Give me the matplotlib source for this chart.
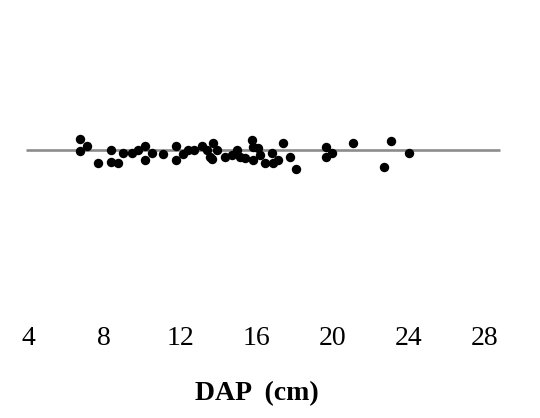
import numpy as np
import matplotlib
matplotlib.use("Agg")
import matplotlib.pyplot as plt

# DAP (cm) e residuos
dap = [6.73, 7.10, 6.73, 7.68, 8.36, 8.36, 8.73, 8.99, 9.46, 9.78,
       10.15, 10.15, 10.51, 11.09, 11.77, 11.77, 12.14, 12.40, 12.72, 13.14,
       13.40, 13.56, 13.72, 13.66, 13.93, 14.35, 14.71, 14.98, 15.13, 15.39,
       15.76, 15.82, 16.08, 15.82, 16.18, 16.45, 16.82, 16.87, 17.13, 17.39,
       17.76, 18.08, 19.65, 19.65, 19.97, 21.07, 23.07, 22.70, 24.01]
residuo = [0.11, 0.04, -0.01, -0.13, 0.00, -0.12, -0.13, -0.03, -0.03, 0.00,
           0.04, -0.10, -0.03, -0.04, 0.04, -0.10, -0.04, 0.00, 0.00, 0.04,
           0.00, -0.07, 0.07, -0.09, 0.00, -0.07, -0.05, 0.00, -0.07, -0.08,
           0.10, 0.03, 0.02, -0.10, -0.05, -0.13, -0.03, -0.13, -0.10, 0.07,
           -0.07, -0.19, 0.03, -0.07, -0.03, 0.07, 0.09, -0.17, -0.03]
x_ticks = [4, 8, 12, 16, 20, 24, 28]

W, H = 540, 418
fig = plt.figure(figsize=(W / 100, H / 100), dpi=100)
# eixo em pixels: esquerda 20, direita 505, topo 20, base 318
ax = fig.add_axes([20 / W, 1 - 318 / H, 485 / W, 298 / H])
ax.set_xlim(3.58, 29.05)
ax.set_ylim(-1.68, 1.3)

ax.hlines(0, 3.9, 28.8, color="#8c8c8c", linewidth=1.9, zorder=1)
ax.scatter(dap, residuo, s=46, color="black", zorder=2, linewidths=0)

for s in ax.spines.values():
    s.set_visible(False)
ax.set_yticks([])
ax.set_xticks(x_ticks)
ax.set_xticklabels([str(t) for t in x_ticks], family="Liberation Serif", fontsize=20)
ax.tick_params(axis="x", length=0, pad=6)

fig.text(257 / W, 1 - 394 / H, "DAP  (cm)", family="Liberation Serif",
         fontsize=20, fontweight="bold", ha="center", va="center")

fig.savefig("out.png", dpi=100)
